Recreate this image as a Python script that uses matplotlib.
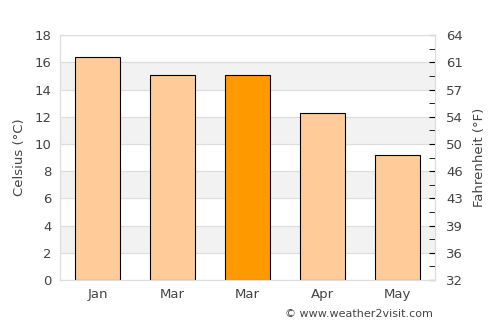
import matplotlib.pyplot as plt

# Data
months = ['Jan', 'Mar', 'Mar', 'Apr', 'May']
celsius = [16.4, 15.1, 15.1, 12.3, 9.2]
colors = ['#ffcc99', '#ffcc99', '#ff9900', '#ffcc99', '#ffcc99']
c_ticks = list(range(0, 19, 2))

fig = plt.figure(figsize=(5, 3.25), dpi=100)
ax = fig.add_axes([0.12, 0.1385, 0.75, 0.7535])

# Alternating background bands and grid lines
for lo in range(2, 18, 4):
    ax.axhspan(lo, lo + 2, color='#f2f2f2', zorder=0)
for t in c_ticks:
    ax.axhline(t, color='#dddddd', linewidth=0.8, zorder=0.5)

ax.bar(range(len(months)), celsius, width=0.6, color=colors,
       edgecolor='black', linewidth=0.8, zorder=2)

ax.set_xlim(-0.5, len(months) - 0.5)
ax.set_ylim(0, 18)
ax.set_yticks(c_ticks)
ax.set_xticks(range(len(months)))
ax.set_xticklabels(months)
ax.tick_params(axis='both', length=0, colors='#444444', labelsize=9.5, pad=6)
ax.set_ylabel('Celsius (°C)', color='#444444', fontsize=9.5, labelpad=6)
for s in ax.spines.values():
    s.set_color('#dddddd')

# Fahrenheit axis
ax2 = ax.twinx()
ax2.set_ylim(0, 18)
ax2.set_yticks(c_ticks)
ax2.set_yticklabels([str(round(c * 1.8 + 32)) for c in c_ticks])
ax2.set_yticks(range(1, 18, 2), minor=True)
ax2.tick_params(axis='y', which='both', direction='in', length=4,
                colors='#444444', labelsize=9.5, pad=8)
ax2.tick_params(axis='y', which='both', color='black')
ax2.set_ylabel('Fahrenheit (°F)', color='#444444', fontsize=9.5, labelpad=7)
for s in ax2.spines.values():
    s.set_color('#dddddd')

fig.text(0.57, 0.025, '© www.weather2visit.com', color='#444444', fontsize=8)

plt.savefig('out.png', dpi=100)
